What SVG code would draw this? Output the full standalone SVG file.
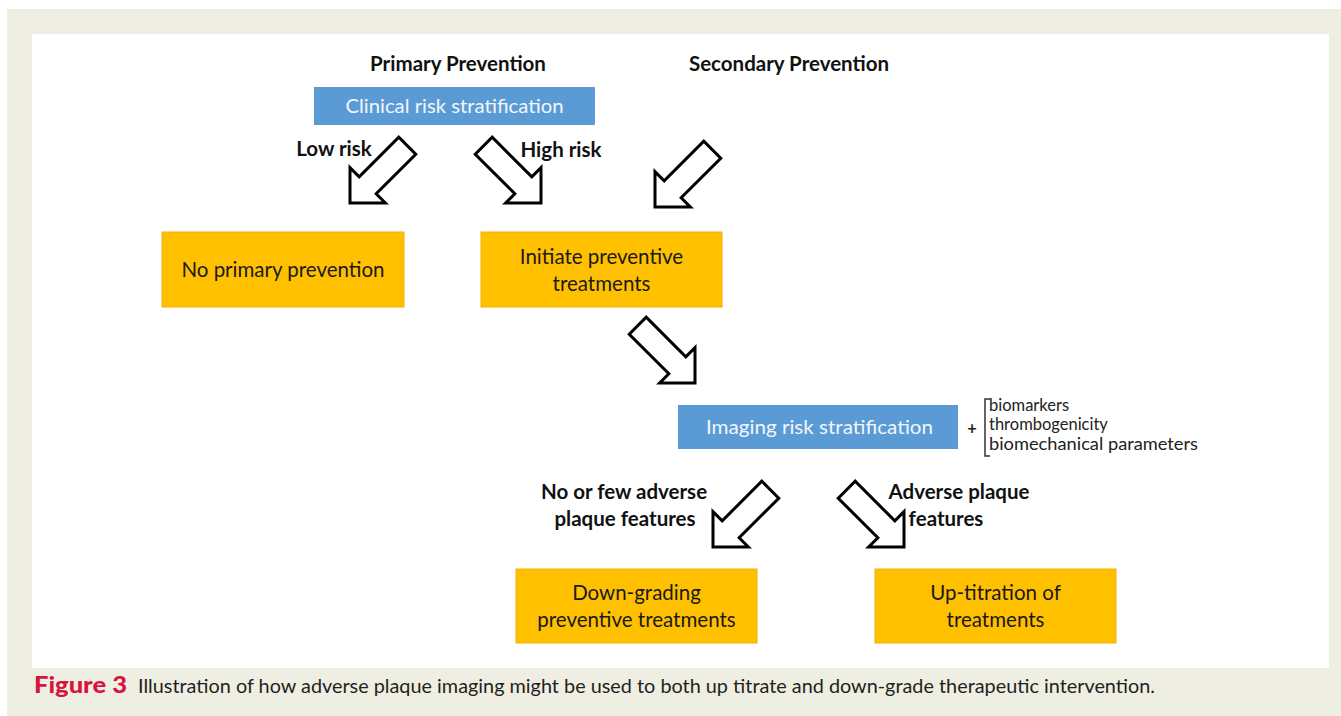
<svg xmlns="http://www.w3.org/2000/svg" xmlns:xlink="http://www.w3.org/1999/xlink" width="1341" height="716" viewBox="0 0 1341 716">
<style>
.t{font-family:Lato,"Open Sans","Liberation Sans",sans-serif;}
.hdr{font-size:20.5px;font-weight:bold;fill:#111;}
.lbl{font-size:20.5px;font-weight:bold;fill:#111;}
.blue{fill:#5B9BD5;}
.bt{font-size:20px;fill:#f2f6fb;}
.yel{fill:#FFC000;stroke:#F0B400;stroke-width:1;}
.yt{font-size:20.5px;fill:#1a1a1a;}
.side{font-size:16.5px;fill:#222;}
.arr{fill:#fff;stroke:#000;stroke-width:3;stroke-linejoin:miter;}
</style>
<defs>
<polygon id="arrow" points="0,0 -25,-25 -25,-12 -81,-12 -81,12 -25,12 -25,25"/>
</defs>
<rect x="7" y="9" width="1334" height="707" fill="#EFEEE3"/>
<rect x="32" y="34" width="1297" height="634" fill="#FFFFFF"/>

<g id="headers" class="t">
<text class="hdr" x="458" y="71" text-anchor="middle">Primary Prevention</text>
<text class="hdr" x="789" y="71" text-anchor="middle">Secondary Prevention</text>
</g>

<g id="clinical">
<rect class="blue" x="314" y="87" width="281" height="38"/>
<text class="t bt" x="454.5" y="113" text-anchor="middle" textLength="218" lengthAdjust="spacingAndGlyphs">Clinical risk stratification</text>
</g>

<g id="no-primary">
<rect class="yel" x="162" y="232" width="242" height="75"/>
<text class="t yt" x="283" y="277" text-anchor="middle">No primary prevention</text>
</g>

<g id="initiate">
<rect class="yel" x="481" y="232" width="241" height="75"/>
<text class="t yt" x="601.5" y="264" text-anchor="middle">Initiate preventive</text>
<text class="t yt" x="601.5" y="291" text-anchor="middle">treatments</text>
</g>

<g id="imaging">
<rect class="blue" x="678" y="405" width="280" height="44"/>
<text class="t bt" x="819.5" y="434" text-anchor="middle" textLength="227" lengthAdjust="spacingAndGlyphs">Imaging risk stratification</text>
</g>

<g id="factors" class="t">
<text class="side" x="972" y="434" text-anchor="middle" font-weight="bold">+</text>
<path d="M990,399 H985 V456 H990" fill="none" stroke="#333" stroke-width="1.5"/>
<text class="side" x="989" y="411">biomarkers</text>
<text class="side" x="989" y="430">thrombogenicity</text>
<text class="side" x="989" y="450" textLength="209" lengthAdjust="spacingAndGlyphs">biomechanical parameters</text>
</g>

<g id="down-grading">
<rect class="yel" x="516" y="569" width="241" height="74"/>
<text class="t yt" x="636.5" y="600" text-anchor="middle">Down-grading</text>
<text class="t yt" x="636.5" y="627" text-anchor="middle">preventive treatments</text>
</g>

<g id="up-titration">
<rect class="yel" x="875" y="569" width="241" height="74"/>
<text class="t yt" x="995.5" y="600" text-anchor="middle">Up-titration of</text>
<text class="t yt" x="995.5" y="627" text-anchor="middle">treatments</text>
</g>

<g id="connectors">
<use xlink:href="#arrow" class="arr" transform="translate(350,203) rotate(135)"/>
<use xlink:href="#arrow" class="arr" transform="translate(541,203) rotate(45)"/>
<use xlink:href="#arrow" class="arr" transform="translate(655,207) rotate(135)"/>
<use xlink:href="#arrow" class="arr" transform="translate(695,383) rotate(45)"/>
<use xlink:href="#arrow" class="arr" transform="translate(713,547) rotate(135)"/>
<use xlink:href="#arrow" class="arr" transform="translate(904,547) rotate(45)"/>
</g>

<g id="labels" class="t">
<text class="lbl" x="334" y="156" text-anchor="middle">Low risk</text>
<text class="lbl" x="561" y="157" text-anchor="middle">High risk</text>
<text class="lbl" x="624" y="499" text-anchor="middle">No or few adverse</text>
<text class="lbl" x="625" y="526" text-anchor="middle">plaque features</text>
<text class="lbl" x="959" y="499" text-anchor="middle">Adverse plaque</text>
<text class="lbl" x="946" y="526" text-anchor="middle">features</text>
</g>

<g id="caption">
<text x="34" y="693" font-family="Lato,'Open Sans','Liberation Sans',sans-serif" font-size="22" font-weight="900" fill="#D7143F" textLength="93" lengthAdjust="spacingAndGlyphs">Figure 3</text>
<text x="138" y="693" font-family="Lato,'Open Sans','Liberation Sans',sans-serif" font-size="19" fill="#231F20" textLength="1017" lengthAdjust="spacingAndGlyphs">Illustration of how adverse plaque imaging might be used to both up titrate and down-grade therapeutic intervention.</text>
</g>
</svg>
